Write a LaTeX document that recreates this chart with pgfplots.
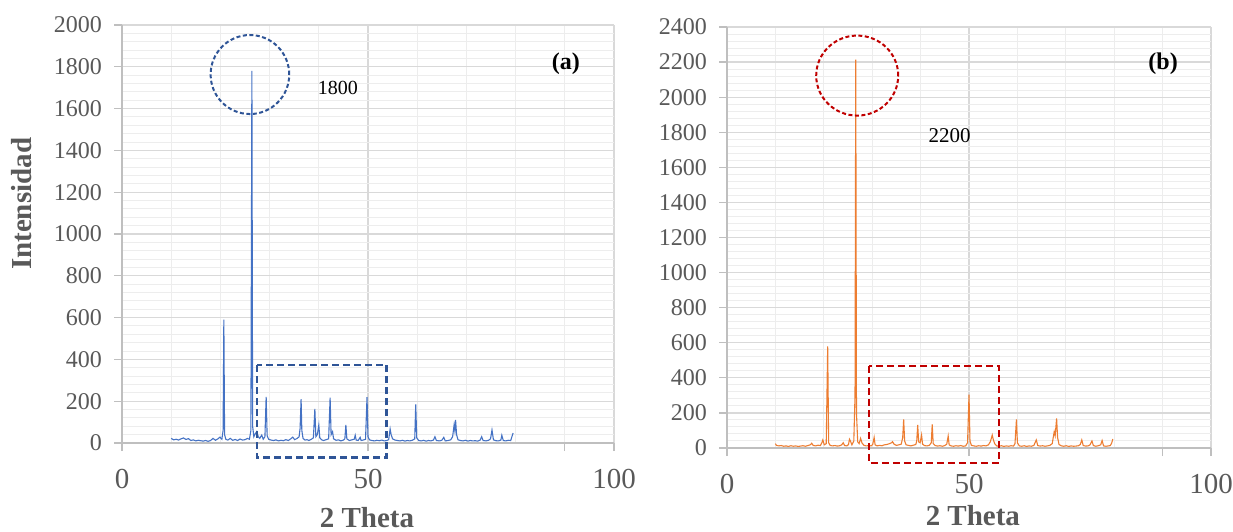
\documentclass[border=0pt]{standalone}
\usepackage{fontspec}
\setmainfont{Liberation Serif}
\usepackage{pgfplots}
\usepackage{pgfplotstable}
\pgfplotsset{compat=1.18}
\definecolor{txt}{HTML}{595959}
\definecolor{gridmaj}{HTML}{D9D9D9}
\definecolor{gridmin}{HTML}{EDEDED}
\definecolor{axc}{HTML}{BFBFBF}
\definecolor{lineA}{HTML}{4472C4}
\definecolor{lineB}{HTML}{ED7D31}
\definecolor{annoA}{HTML}{2F5597}
\definecolor{annoB}{HTML}{C00000}

\pgfplotstableread{
x y
10.0 22
10.5 15
11.0 18
11.5 14
12.0 20
12.5 24
13.0 17
13.5 21
14.0 12
14.5 15
15.0 10
15.5 13
16.0 11
16.5 9
17.0 12
17.5 8
18.0 12
18.5 22
19.0 13
19.5 20
19.9 28
20.3 18
20.55 60
20.7 590
20.85 40
21.1 18
21.5 14
22.0 22
22.5 13
23.0 17
23.5 12
24.0 19
24.5 14
25.0 16
25.5 22
25.9 18
26.2 60
26.4 1780
26.55 80
26.8 30
27.1 45
27.4 55
27.7 30
28.0 22
28.4 38
28.7 18
29.05 30
29.3 221
29.5 35
29.8 18
30.3 14
30.8 12
31.3 15
31.8 10
32.3 13
32.8 11
33.3 16
33.8 12
34.3 20
34.7 28
35.1 16
35.6 22
36.0 30
36.2 70
36.4 210
36.55 60
36.8 22
37.2 14
37.6 16
38.0 12
38.5 18
38.9 25
39.2 163
39.4 30
39.7 40
40.0 86
40.2 25
40.6 15
41.0 12
41.5 16
42.0 20
42.3 217
42.5 40
42.8 54
43.0 20
43.5 13
44.0 15
44.5 10
45.0 14
45.3 20
45.5 86
45.7 20
46.2 12
46.7 15
47.2 18
47.4 37
47.6 14
48.0 12
48.4 27
48.6 12
49.0 14
49.5 18
49.8 219
50.0 30
50.3 15
50.8 12
51.3 10
51.8 13
52.3 11
52.8 14
53.3 10
53.8 12
54.2 16
54.5 67
54.7 40
55.0 20
55.5 14
56.0 12
56.5 10
57.0 13
57.5 9
58.0 12
58.5 10
59.0 13
59.5 20
59.7 185
59.9 25
60.3 12
60.8 10
61.3 13
61.8 9
62.3 12
62.8 10
63.3 14
63.6 30
63.9 12
64.5 10
65.0 13
65.4 27
65.7 10
66.3 12
66.8 15
67.2 30
67.5 86
67.65 60
67.8 110
68.0 40
68.3 15
68.8 12
69.3 10
69.8 13
70.3 9
70.8 12
71.3 10
71.8 11
72.3 9
72.8 14
73.1 30
73.4 12
74.0 10
74.5 13
74.9 20
75.2 62
75.5 15
76.0 11
76.5 10
77.0 14
77.2 37
77.5 12
78.0 10
78.5 13
79.0 12
79.5 48
}\dataA

\pgfplotstableread{
x y
10.0 25
10.2 15
10.7 12
11.2 14
11.7 10
12.2 12
12.7 9
13.2 13
13.7 10
14.2 12
14.7 9
15.2 11
15.7 13
16.2 10
16.7 14
17.2 18
17.5 27
17.8 15
18.3 12
18.8 16
19.3 14
19.6 30
19.8 46
20.1 18
20.5 25
20.8 580
21.0 30
21.3 15
21.8 12
22.3 14
22.8 11
23.3 13
23.7 18
24.0 30
24.3 14
24.8 12
25.1 20
25.3 50
25.5 40
25.8 18
26.2 40
26.45 300
26.6 2214
26.75 200
27.0 35
27.3 25
27.6 55
27.9 28
28.3 15
28.8 12
29.3 14
29.8 12
30.1 20
30.4 60
30.6 18
31.0 12
31.5 15
32.0 13
32.5 18
33.0 20
33.5 24
34.0 30
34.2 36
34.5 22
35.0 15
35.5 18
36.0 22
36.3 60
36.5 163
36.7 40
37.0 18
37.5 15
38.0 12
38.5 16
39.0 20
39.2 40
39.4 131
39.6 35
39.9 30
40.2 74
40.4 22
40.8 14
41.3 12
41.8 15
42.2 30
42.4 135
42.6 25
43.0 14
43.5 11
44.0 13
44.5 10
45.0 14
45.4 22
45.7 68
45.9 18
46.3 12
46.8 10
47.3 13
47.8 11
48.3 14
48.8 10
49.3 12
49.7 30
50.0 304
50.2 40
50.5 15
51.0 12
51.5 10
52.0 13
52.5 11
53.0 14
53.5 12
54.0 18
54.4 35
54.8 74
55.0 50
55.3 25
55.7 12
56.2 10
56.7 13
57.2 9
57.7 12
58.2 10
58.7 13
59.2 11
59.5 25
59.8 163
60.0 30
60.4 12
60.9 10
61.4 13
61.9 9
62.4 12
62.9 10
63.4 15
63.9 46
64.2 14
64.7 11
65.2 13
65.7 10
66.2 12
66.7 15
67.2 25
67.4 60
67.6 93
67.8 70
68.1 169
68.3 60
68.6 20
69.1 12
69.6 10
70.1 13
70.6 9
71.1 12
71.6 10
72.1 11
72.6 13
73.0 20
73.3 46
73.6 14
74.1 11
74.6 12
75.0 18
75.4 40
75.7 14
76.2 10
76.7 13
77.2 18
77.5 43
77.8 12
78.3 10
78.8 12
79.2 14
79.5 30
79.7 51
}\dataB

\pgfplotsset{
  xrdstyle/.style={
    anchor=south west, scale only axis, clip=false,
    xmin=0, xmax=100, ymin=0,
    xtick={0,50,100}, minor x tick num=4,
    extra x ticks={90}, extra x tick labels={}, extra x tick style={grid=none},
    minor y tick num=4,
    grid=both,
    major grid style={color=gridmaj, line width=1.2pt},
    minor grid style={color=gridmin, line width=1pt},
    axis x line*=bottom, axis y line*=left,
    axis line style={color=axc, line width=1.3pt},
    tick style={color=axc, line width=1.2pt},
    tick align=outside, major tick length=8pt, minor tick length=0pt,
    /pgf/number format/assume math mode=true,
    /pgf/number format/1000 sep={},
    ticklabel style={color=txt},
    yticklabel style={font=\rmfamily\fontsize{24}{27}\selectfont, anchor=east, inner sep=0pt, xshift=-12pt},
    xticklabel style={font=\rmfamily\fontsize{29}{33}\selectfont, anchor=north, inner sep=0pt, yshift=-18pt},
    label style={font=\rmfamily\fontsize{29}{33}\selectfont\bfseries, color=txt},
  }
}

\begin{document}
\begin{tikzpicture}
\useasboundingbox (0,0) rectangle (1233pt,531pt);
\begin{axis}[xrdstyle, at={(122pt,88pt)}, width=492pt, height=418pt,
  ymax=2000, ytick distance=200,
  xlabel={2 Theta}, ylabel={Intensidad},
  xlabel style={at={(axis description cs:0.498,-0.201)}, anchor=base},
  ylabel style={at={(axis description cs:-0.205,0.572)}, anchor=center},
]
\addplot[color=lineA, line width=1.1pt, mark=none] table[x=x,y=y] {\dataA};
\draw[color=annoA, line width=2pt, dash pattern=on 4pt off 2.5pt] (axis cs:26.0,1763) ellipse [x radius=39.3pt, y radius=39.5pt];
\draw[color=annoA, line width=2.5pt, dash pattern=on 7pt off 4pt] (axis cs:27.4,373) rectangle (axis cs:53.8,-70);
\node[font=\fontsize{20}{24}\selectfont, text=black] at (axis cs:43.9,1699) {1800};
\node[font=\fontsize{24}{28}\selectfont\bfseries, text=black] at (axis cs:90.2,1813) {(a)};
\end{axis}
\begin{axis}[xrdstyle, at={(727pt,83pt)}, width=484pt, height=421pt,
  ymax=2400, ytick distance=200,
  xlabel={2 Theta},
  xlabel style={at={(axis description cs:0.508,-0.185)}, anchor=base},
]
\addplot[color=lineB, line width=1.1pt, mark=none] table[x=x,y=y] {\dataB};
\draw[color=annoB, line width=2pt, dash pattern=on 4pt off 2.5pt] (axis cs:26.9,2123) ellipse [x radius=41pt, y radius=40pt];
\draw[color=annoB, line width=2.5pt, dash pattern=on 7pt off 4pt] (axis cs:29.3,467.5) rectangle (axis cs:56.2,-85.5);
\node[font=\fontsize{21}{24}\selectfont, text=black] at (axis cs:46.0,1782) {2200};
\node[font=\fontsize{24}{28}\selectfont\bfseries, text=black] at (axis cs:90.1,2189) {(b)};
\end{axis}
\end{tikzpicture}
\end{document}
